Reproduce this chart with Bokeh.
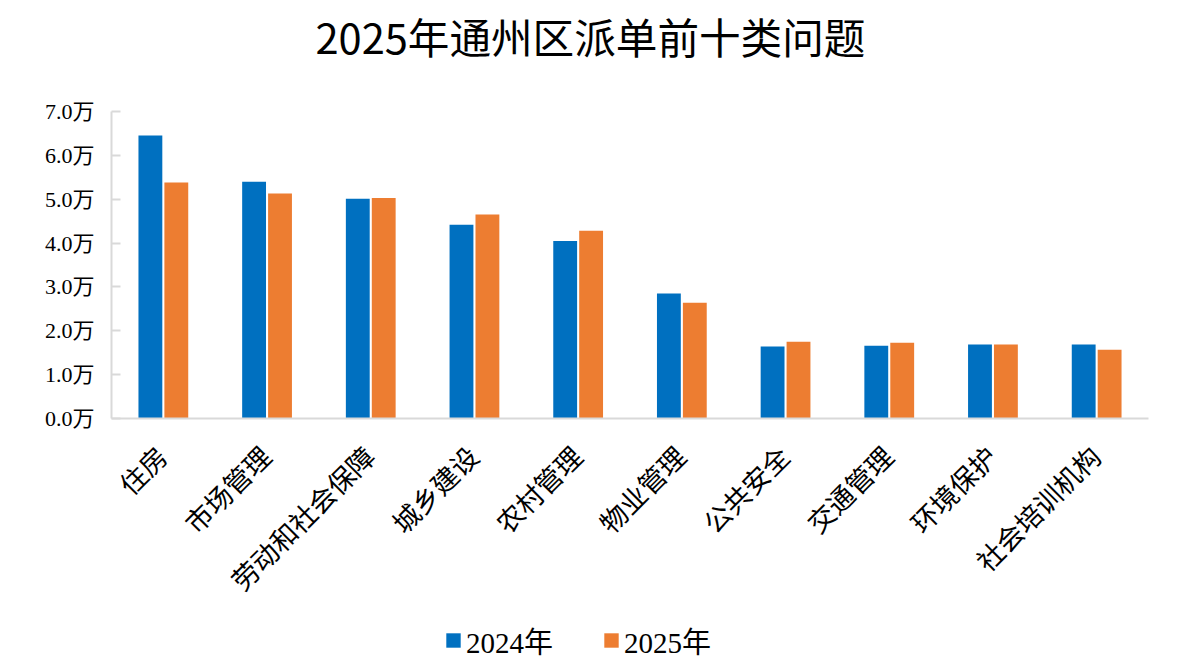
from bokeh.plotting import figure
from bokeh.models import ColumnDataSource, FactorRange, Legend, LegendItem, Range1d, FixedTicker, Title
from bokeh.layouts import column
from bokeh.transform import dodge
from bokeh.embed import file_html
from bokeh.resources import INLINE
import math

title_text = "2025年通州区派单前十类问题"
categories = ["住房", "市场管理", "劳动和社会保障", "城乡建设", "农村管理",
              "物业管理", "公共安全", "交通管理", "环境保护", "社会培训机构"]
series_names = ["2024年", "2025年"]
values_2024 = [6.45, 5.40, 5.01, 4.42, 4.05, 2.85, 1.64, 1.66, 1.69, 1.69]
values_2025 = [5.38, 5.13, 5.03, 4.65, 4.28, 2.64, 1.75, 1.73, 1.69, 1.57]
y_ticks = [0, 1, 2, 3, 4, 5, 6, 7]
y_tick_labels = ["0.0万", "1.0万", "2.0万", "3.0万", "4.0万", "5.0万", "6.0万", "7.0万"]

BLUE = "#0070C0"
ORANGE = "#ED7D31"
GRID = "#D9D9D9"
SERIF = "Liberation Serif, Noto Sans CJK SC"

source = ColumnDataSource(dict(cat=categories, v24=values_2024, v25=values_2025))

p = figure(frame_width=1037, height=625, title=None,
           x_range=FactorRange(*categories, range_padding=0),
           y_range=Range1d(0, 7), output_backend="svg", toolbar_location=None,
           min_border_left=111, min_border_right=16, min_border_top=111, min_border_bottom=207)

p.vbar(x=dodge("cat", -0.125, range=p.x_range), top="v24", width=0.23, source=source,
       color=BLUE, line_color=None)
p.vbar(x=dodge("cat", 0.125, range=p.x_range), top="v25", width=0.23, source=source,
       color=ORANGE, line_color=None)

spacer = Title(text=" ", text_font_size="20px", standoff=19)
main_title = Title(text=title_text, text_font="Noto Sans CJK SC", text_font_size="41.6px",
                   text_font_style="normal", text_color="#000000", align="left",
                   offset=204, standoff=6)
p.add_layout(spacer, "above")
p.add_layout(main_title, "above")

p.xgrid.visible = False
p.ygrid.visible = False
p.outline_line_color = None

p.yaxis.ticker = FixedTicker(ticks=y_ticks)
p.yaxis.major_label_overrides = {t: l for t, l in zip(y_ticks, y_tick_labels)}
p.yaxis.major_label_text_font = SERIF
p.yaxis.major_label_text_font_size = "22px"
p.yaxis.major_label_text_color = "#000000"
p.yaxis.axis_line_color = GRID
p.yaxis.axis_line_width = 2
p.yaxis.major_tick_line_color = GRID
p.yaxis.major_tick_line_width = 2
p.yaxis.major_tick_in = 9
p.yaxis.major_tick_out = 0
p.yaxis.minor_tick_line_color = None
p.yaxis.major_label_standoff = 17

p.xaxis.axis_line_color = GRID
p.xaxis.axis_line_width = 2
p.xaxis.major_tick_line_color = None
p.xaxis.minor_tick_line_color = None
p.xaxis.major_label_orientation = math.pi / 4
p.xaxis.major_label_text_font = SERIF
p.xaxis.major_label_text_font_size = "27px"
p.xaxis.major_label_text_color = "#000000"
p.xaxis.major_label_standoff = 28

# legend strip below the chart (its bars lie outside its visible y range)
p2 = figure(width=1164, height=38, x_range=FactorRange(*categories), y_range=Range1d(100, 101),
            output_backend="svg", toolbar_location=None, x_axis_location=None,
            y_axis_location=None, min_border=0)
p2.xgrid.visible = False
p2.ygrid.visible = False
p2.outline_line_color = None
l1 = p2.vbar(x="cat", top="v24", width=0.23, source=source, color=BLUE, line_color=None)
l2 = p2.vbar(x="cat", top="v25", width=0.23, source=source, color=ORANGE, line_color=None)
legend = Legend(items=[LegendItem(label=series_names[0], renderers=[l1]),
                       LegendItem(label=series_names[1], renderers=[l2])],
                orientation="horizontal", location=(333, 2),
                label_text_font=SERIF, label_text_font_size="29px", label_text_color="#000000",
                glyph_width=18, glyph_height=18, spacing=49, label_standoff=4,
                border_line_color=None, background_fill_alpha=0, margin=0, padding=0)
p2.add_layout(legend, "center")

open("out.html", "w").write(file_html(column(p, p2, spacing=0), INLINE))
